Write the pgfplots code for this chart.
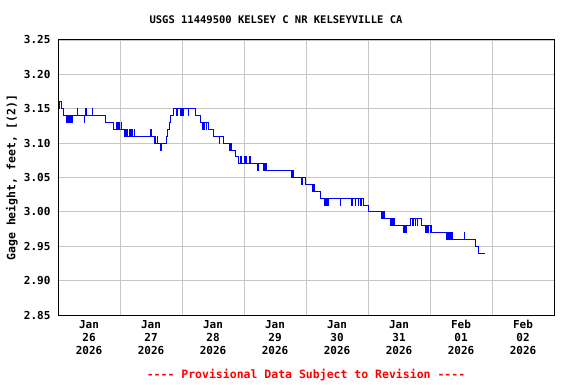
\documentclass[border=0pt]{standalone}
\usepackage{pgfplots}
\pgfplotsset{compat=1.18}
\usepackage{fontspec}
\setmainfont{DejaVu Sans Mono}
\begin{document}
\begin{tikzpicture}
\begin{axis}[
  name=ax,
  scale only axis,
  width=496pt, height=275pt,
  xmin=0, xmax=8, ymin=2.85, ymax=3.25,
  axis line style={black, line width=1pt},
  xtick={0.5,1.5,...,7.5},
  xticklabels={{Jan\\26\\2026},{Jan\\27\\2026},{Jan\\28\\2026},{Jan\\29\\2026},{Jan\\30\\2026},{Jan\\31\\2026},{Feb\\01\\2026},{Feb\\02\\2026}},
  minor xtick={1,2,...,7},
  xminorgrids=true,
  ytick={2.85,2.90,...,3.26},
  ymajorgrids=true,
  grid style={draw=black!22, line width=0.8pt},
  minor grid style={draw=black!22, line width=0.8pt},
  major tick length=0pt, minor tick length=0pt,
  /pgf/number format/assume math mode=true,
  yticklabel={\pgfmathprintnumber[fixed,precision=2,zerofill]{\tick}},
  xticklabel style={align=center, font=\bfseries\fontsize{11}{13}\selectfont, yshift=-2pt},
  yticklabel style={font=\bfseries\fontsize{11}{13}\selectfont, xshift=-4pt},
]
\addplot[const plot, color={rgb,255:red,0;green,0;blue,255}, line width=0.9pt] coordinates {
(0.000,3.16) (0.020,3.15) (0.030,3.16) (0.050,3.15) (0.090,3.14) (0.130,3.13)
(0.145,3.14) (0.155,3.13) (0.165,3.14) (0.185,3.13) (0.195,3.14) (0.215,3.13)
(0.225,3.14) (0.310,3.15) (0.320,3.14) (0.420,3.13) (0.430,3.14) (0.450,3.15)
(0.460,3.14) (0.550,3.15) (0.560,3.14) (0.760,3.13) (0.900,3.12) (0.950,3.13)
(0.960,3.12) (0.975,3.13) (0.985,3.12) (1.020,3.13) (1.030,3.12) (1.070,3.11)
(1.085,3.12) (1.095,3.11) (1.110,3.12) (1.120,3.11) (1.160,3.12) (1.170,3.11)
(1.190,3.12) (1.200,3.11) (1.230,3.12) (1.240,3.11) (1.490,3.12) (1.500,3.11)
(1.550,3.10) (1.565,3.11) (1.575,3.10) (1.600,3.11) (1.610,3.10) (1.655,3.09)
(1.665,3.10) (1.745,3.11) (1.770,3.12) (1.795,3.13) (1.820,3.14) (1.860,3.15)
(1.910,3.14) (1.920,3.15) (1.980,3.14) (1.995,3.15) (2.010,3.14) (2.020,3.15)
(2.100,3.14) (2.110,3.15) (2.210,3.14) (2.300,3.13) (2.330,3.12) (2.340,3.13)
(2.360,3.12) (2.370,3.13) (2.390,3.12) (2.400,3.13) (2.430,3.12) (2.505,3.11)
(2.600,3.10) (2.610,3.11) (2.667,3.10) (2.770,3.09) (2.785,3.10) (2.800,3.09)
(2.870,3.08) (2.910,3.07) (2.950,3.08) (2.960,3.07) (3.000,3.08) (3.010,3.07)
(3.030,3.08) (3.040,3.07) (3.090,3.08) (3.100,3.07) (3.220,3.06) (3.230,3.07)
(3.310,3.06) (3.320,3.07) (3.330,3.06) (3.340,3.07) (3.366,3.06) (3.770,3.05)
(3.780,3.06) (3.800,3.05) (3.930,3.04) (3.940,3.05) (3.995,3.04) (4.110,3.03)
(4.120,3.04) (4.130,3.03) (4.226,3.02) (4.290,3.01) (4.300,3.02) (4.310,3.01)
(4.330,3.02) (4.340,3.01) (4.360,3.02) (4.550,3.01) (4.560,3.02) (4.740,3.01)
(4.750,3.02) (4.790,3.01) (4.800,3.02) (4.840,3.01) (4.850,3.02) (4.880,3.01)
(4.890,3.02) (4.925,3.01) (5.000,3.00) (5.220,2.99) (5.230,3.00) (5.250,2.99)
(5.260,3.00) (5.270,2.99) (5.370,2.98) (5.380,2.99) (5.400,2.98) (5.410,2.99)
(5.430,2.98) (5.570,2.97) (5.580,2.98) (5.600,2.97) (5.620,2.98) (5.677,2.99)
(5.720,2.98) (5.730,2.99) (5.760,2.98) (5.770,2.99) (5.790,2.98) (5.800,2.99)
(5.866,2.98) (5.930,2.97) (5.940,2.98) (5.960,2.97) (5.980,2.98) (6.000,2.97)
(6.020,2.98) (6.030,2.97) (6.270,2.96) (6.280,2.97) (6.300,2.96) (6.310,2.97)
(6.330,2.96) (6.350,2.97) (6.370,2.96) (6.548,2.97) (6.558,2.96) (6.726,2.95)
(6.780,2.94) (6.887,2.94)
};
\end{axis}
\draw[black, line width=1pt] (ax.south west) rectangle (ax.north east);
\node[font=\bfseries\fontsize{10.5}{12}\selectfont] at ([xshift=-30pt, yshift=20pt]ax.north) {USGS 11449500 KELSEY C NR KELSEYVILLE CA};
\node[font=\bfseries\fontsize{11.5}{13}\selectfont, rotate=90] at ([xshift=-46pt]ax.west) {Gage height, feet, [(2)]};
\node[font=\bfseries\fontsize{11.5}{13}\selectfont, text=red] at ([yshift=-60pt]ax.south) {-{}-{}-{}- Provisional Data Subject to Revision -{}-{}-{}-};
\useasboundingbox ([xshift=-58pt, yshift=-69pt]ax.south west) rectangle ([xshift=22pt, yshift=40pt]ax.north east);
\end{tikzpicture}
\end{document}
